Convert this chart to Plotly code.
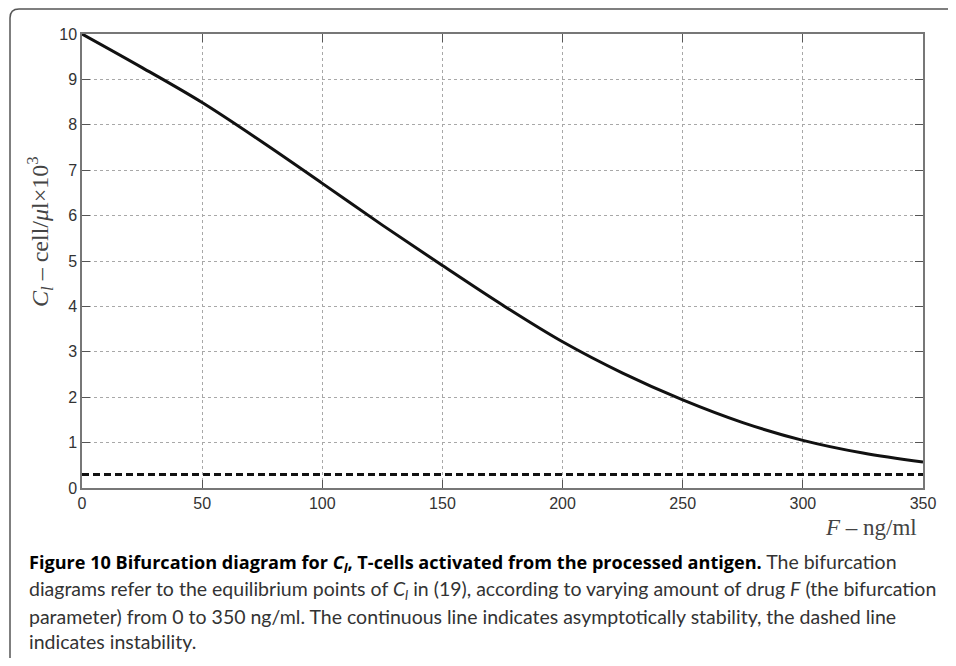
import plotly.graph_objects as go

# ---- data ----
F_stable = [0, 25, 50, 75, 100, 125, 150, 175, 200, 225, 250, 275, 300, 325, 350]
C_stable = [10.0, 9.26, 8.49, 7.62, 6.71, 5.79, 4.90, 4.03, 3.22, 2.53, 1.94, 1.44, 1.05, 0.77, 0.57]
F_unstable = [0, 350]
C_unstable = [0.3, 0.3]
x_ticks = [0, 50, 100, 150, 200, 250, 300, 350]
y_ticks = [0, 1, 2, 3, 4, 5, 6, 7, 8, 9, 10]

# the page body has an 8px margin, so the figure is offset by 8px
OFF = 8
W, H = 948, 650
L, R, T, B = 74, 33, 26, 170
PW, PH = W - L - R, H - T - B

def px(x):  # page pixel x -> paper
    return (x - OFF - L) / PW

def py(y):  # page pixel y -> paper
    return (H - B - (y - OFF)) / PH

fig = go.Figure()
fig.add_trace(go.Scatter(x=F_stable, y=C_stable, mode="lines", line_shape="spline",
                         line=dict(color="#111111", width=3, smoothing=1.0),
                         hoverinfo="skip", showlegend=False))
fig.add_trace(go.Scatter(x=F_unstable, y=C_unstable, mode="lines",
                         line=dict(color="#111111", width=3, dash="7px,4px"),
                         hoverinfo="skip", showlegend=False))

axis_common = dict(showline=True, linecolor="#777777", linewidth=1.5, mirror="allticks",
                   ticks="inside", ticklen=8, tickcolor="#555555", tickwidth=1.2,
                   showgrid=True, gridcolor="#a8a8a8", griddash="dot", gridwidth=1,
                   zeroline=False,
                   tickfont=dict(family="Liberation Sans, Arial", size=16, color="#333333"))

fig.update_xaxes(range=[0, 350], tickvals=x_ticks, ticktext=[str(v) for v in x_ticks], **axis_common)
fig.update_yaxes(range=[0, 10], tickvals=y_ticks, ticktext=[str(v) for v in y_ticks], **axis_common)

serif = "Liberation Serif, DejaVu Serif, serif"
annotations = [
    dict(text="<i>C<sub>l</sub></i> – cell/<i>μ</i>l×10<sup>3</sup>", textangle=-90,
         x=px(40), y=py(232), xanchor="center", yanchor="middle",
         font=dict(family=serif, size=24, color="#444444")),
    dict(text="<i>F</i> – ng/ml", x=px(919), y=py(527), xanchor="right", yanchor="middle",
         font=dict(family=serif, size=23, color="#444444")),
]

cap_font = dict(family="Lato, Open Sans, sans-serif", size=19.5, color="#333333")
bold_style = "color:#000000;font-family:'Open Sans';font-size:18.1px"
caption_lines = [
    f"<span style=\"{bold_style}\"><b>Figure 10 Bifurcation diagram for <i>C<sub>l</sub></i>, T-cells activated from the processed antigen.</b></span> The bifurcation",
    "diagrams refer to the equilibrium points of <i>C<sub>l</sub></i> in (19), according to varying amount of drug <i>F</i> (the bifurcation",
    "parameter) from 0 to 350 ng/ml. The continuous line indicates asymptotically stability, the dashed line",
    "indicates instability.",
]
cap_y = [563, 590, 616, 641]
for line, yy in zip(caption_lines, cap_y):
    annotations.append(dict(text=line, x=px(27), y=py(yy), xanchor="left", yanchor="middle",
                            font=cap_font, align="left"))

for a in annotations:
    a.update(xref="paper", yref="paper", showarrow=False)

# rounded frame around the figure panel
r = 9
fx, fy = 10, 9
frame_path = (f"M {px(fx)},{py(720)} L {px(fx)},{py(fy + r)} "
              f"Q {px(fx)},{py(fy)} {px(fx + r)},{py(fy)} L {px(1000)},{py(fy)}")
shapes = [dict(type="path", xref="paper", yref="paper", path=frame_path,
               line=dict(color="#555555", width=1.5))]

fig.update_layout(width=W, height=H, margin=dict(l=L, r=R, t=T, b=B, autoexpand=False),
                  paper_bgcolor="white", plot_bgcolor="white",
                  annotations=annotations, shapes=shapes, showlegend=False)

fig.write_html("out.html", config={"displayModeBar": False})
